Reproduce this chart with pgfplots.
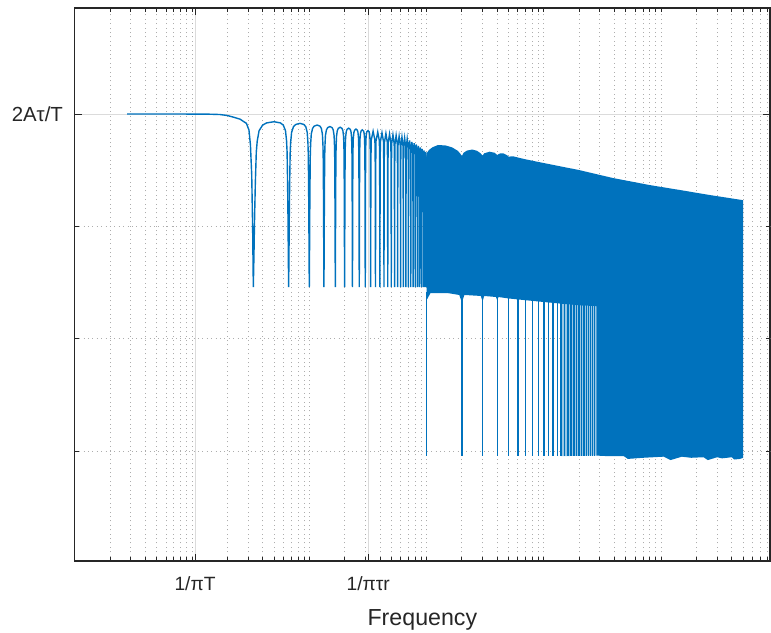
\documentclass[border=0pt]{standalone}
\usepackage{pgfplots}
\pgfplotsset{compat=1.18}
\usepackage{fontspec}
\setmainfont{Liberation Sans}
\definecolor{mblue}{RGB}{0,114,189}
\begin{document}
\begin{tikzpicture}
\begin{axis}[
  name=ax,
  scale only axis,
  width=347.6bp, height=276.5bp,
  xmode=log, ymode=log,
  xmin=1, xmax=8.47e5,
  ymin=1.047e-4, ymax=8.79,
  axis line style={black!85, line width=0.6bp},
  tick style={black!85, line width=0.4bp},
  tick align=inside,
  major tick length=3.5bp, minor tick length=2bp,
  xtick={10.61,318.3},
  xticklabels={1/πT,1/πτr},
  minor xtick={2,3,4,5,6,7,8,9,10,20,30,40,50,60,70,80,90,100,200,300,400,500,600,700,800,900,1000,2000,3000,4000,5000,6000,7000,8000,9000,10000,20000,30000,40000,50000,60000,70000,80000,90000,100000,200000,300000,400000,500000,600000,700000,800000},
  ytick={1},
  yticklabels={2Aτ/T},
  extra y ticks={0.1,0.01,0.001},
  extra y tick labels={},
  extra y tick style={grid=major, major grid style={black!32, line width=0.4bp, dash pattern=on 0.5bp off 1.7bp}, major tick length=2bp},
  grid=both,
  major grid style={black!14, line width=0.4bp},
  minor grid style={black!32, line width=0.4bp, dash pattern=on 0.5bp off 1.7bp},
  xticklabel style={font=\fontsize{9.6bp}{11bp}\selectfont, text=black!85, anchor=base, yshift=-14.5bp},
  yticklabel style={font=\fontsize{10.2bp}{12bp}\selectfont, text=black!85, inner sep=0pt, xshift=-5.7bp},
  xlabel={Frequency},
  xlabel style={font=\fontsize{11.6bp}{13bp}\selectfont, text=black!85, at={(axis description cs:0.5,0)}, anchor=base, yshift=-32bp},
]
% light transition zone
\addplot[draw=none, fill=mblue!40] coordinates {(14000,0.0205) (28000,0.0195) (28000,9.1e-4) (14000,9.0e-4)};
% dense high-frequency region
\addplot[draw=none, fill=mblue] coordinates {
(1000,0.447) (1050,0.48) (1120,0.505) (1250,0.53) (1450,0.525) (1650,0.505) (1850,0.47) (1950,0.44) (2000,0.423) (2060,0.45) (2200,0.472) (2450,0.483) (2700,0.47) (2900,0.445) (3000,0.425) (3100,0.447) (3450,0.462) (3800,0.452) (4000,0.432) (4200,0.445) (4500,0.447) (4850,0.43) (5000,0.418) (5500,0.42) (6000,0.41) (7000,0.395) (10000,0.366) (20000,0.317) (39000,0.269) (80000,0.233) (147000,0.210) (260000,0.190) (500000,0.171)
(500000,8.7e-4) (470000,8.5e-4) (420000,8.4e-4) (400000,8.8e-4) (330000,8.6e-4) (300000,8.8e-4) (250000,8.3e-4) (230000,8.8e-4) (180000,8.7e-4) (150000,8.9e-4) (120000,8.3e-4) (105000,8.9e-4) (70000,8.7e-4) (52000,8.5e-4) (48000,9.0e-4) (35000,9.0e-4) (28000,9.1e-4)
(28000,0.0195) (20000,0.0198) (14000,0.0205) (10000,0.0212) (7000,0.022) (5000,0.0228) (4100,0.0235) (4000,0.022) (3900,0.0235) (3100,0.024) (3000,0.0215) (2900,0.024) (2100,0.0245) (2000,0.021) (1900,0.0245) (1500,0.0255) (1080,0.0255) (1000,0.022)
};
% deep nulls at multiples of 1/tau
\addplot[mblue, line width=0.7bp, unbounded coords=jump] coordinates {
(1000,0.026) (1000,9.0e-4) (1000,nan)
(2000,0.026) (2000,9.0e-4) (2000,nan)
(3000,0.026) (3000,9.0e-4) (3000,nan)
(4000,0.026) (4000,9.0e-4) (4000,nan)
(5000,0.026) (5000,9.0e-4) (5000,nan)
(6000,0.026) (6000,9.0e-4) (6000,nan)
(7000,0.026) (7000,9.0e-4) (7000,nan)
(8000,0.026) (8000,9.0e-4) (8000,nan)
(9000,0.026) (9000,9.0e-4) (9000,nan)
(10000,0.026) (10000,9.0e-4) (10000,nan)
(11000,0.026) (11000,9.0e-4) (11000,nan)
(12000,0.026) (12000,9.0e-4) (12000,nan)
(13000,0.026) (13000,9.0e-4) (13000,nan)
(14000,0.026) (14000,9.0e-4) (14000,nan)
(15000,0.026) (15000,9.0e-4) (15000,nan)
(16000,0.026) (16000,9.0e-4) (16000,nan)
(17000,0.026) (17000,9.0e-4) (17000,nan)
(18000,0.026) (18000,9.0e-4) (18000,nan)
(19000,0.026) (19000,9.0e-4) (19000,nan)
(20000,0.026) (20000,9.0e-4) (20000,nan)
(21000,0.026) (21000,9.0e-4) (21000,nan)
(22000,0.026) (22000,9.0e-4) (22000,nan)
(23000,0.026) (23000,9.0e-4) (23000,nan)
(24000,0.026) (24000,9.0e-4) (24000,nan)
(25000,0.026) (25000,9.0e-4) (25000,nan)
(26000,0.026) (26000,9.0e-4) (26000,nan)
(27000,0.026) (27000,9.0e-4)
};
% low-frequency part: flat top and arches between nulls at n/T
\addplot[mblue, line width=0.7bp] coordinates {
(2.8,1.0) (8,1.0) (13.5,0.998) (17.3,0.99) (20,0.97) (22.4,0.94) (25.7,0.90) (29.1,0.826) (30.6,0.72) (31.5,0.53) (32.3,0.287) (32.9,0.093)
(33.33,0.0288) (33.73,0.0539) (34.17,0.120) (34.67,0.241) (35.33,0.459) (36.00,0.577) (37.33,0.711) (40.00,0.797) (43.33,0.834) (50.00,0.854) (56.67,0.834) (60.00,0.797) (62.67,0.711) (64.00,0.577) (64.67,0.459) (65.33,0.241) (65.83,0.120) (66.27,0.0539)
(66.67,0.0288) (67.07,0.0521) (67.50,0.116) (68.00,0.233) (68.67,0.444) (69.33,0.558) (70.67,0.687) (73.33,0.771) (76.67,0.807) (83.33,0.826) (90.00,0.807) (93.33,0.771) (96.00,0.687) (97.33,0.558) (98.00,0.444) (98.67,0.233) (99.17,0.116) (99.60,0.0521)
(100.00,0.0288) (100.40,0.0504) (100.83,0.113) (101.33,0.225) (102.00,0.429) (102.67,0.539) (104.00,0.664) (106.67,0.745) (110.00,0.780) (116.67,0.798) (123.33,0.780) (126.67,0.745) (129.33,0.664) (130.67,0.539) (131.33,0.429) (132.00,0.225) (132.50,0.113) (132.93,0.0504)
(133.33,0.0288) (133.73,0.0488) (134.17,0.109) (134.67,0.218) (135.33,0.416) (136.00,0.523) (137.33,0.644) (140.00,0.722) (143.33,0.756) (150.00,0.774) (156.67,0.756) (160.00,0.722) (162.67,0.644) (164.00,0.523) (164.67,0.416) (165.33,0.218) (165.83,0.109) (166.27,0.0488)
(166.67,0.0288) (167.07,0.0481) (167.50,0.108) (168.00,0.215) (168.67,0.410) (169.33,0.516) (170.67,0.635) (173.33,0.712) (176.67,0.745) (183.33,0.763) (190.00,0.745) (193.33,0.712) (196.00,0.635) (197.33,0.516) (198.00,0.410) (198.67,0.215) (199.17,0.108) (199.60,0.0481)
(200.00,0.0288) (200.40,0.0472) (200.83,0.105) (201.33,0.211) (202.00,0.402) (202.67,0.506) (204.00,0.622) (206.67,0.698) (210.00,0.731) (216.67,0.748) (223.33,0.731) (226.67,0.698) (229.33,0.622) (230.67,0.506) (231.33,0.402) (232.00,0.211) (232.50,0.105) (232.93,0.0472)
(233.33,0.0288) (233.73,0.0464) (234.17,0.104) (234.67,0.207) (235.33,0.395) (236.00,0.497) (237.33,0.612) (240.00,0.686) (243.33,0.718) (250.00,0.735) (256.67,0.718) (260.00,0.686) (262.67,0.612) (264.00,0.497) (264.67,0.395) (265.33,0.207) (265.83,0.104) (266.27,0.0464)
(266.67,0.0288) (267.07,0.0456) (267.50,0.102) (268.00,0.204) (268.67,0.388) (269.33,0.489) (270.67,0.602) (273.33,0.675) (276.67,0.706) (283.33,0.723) (290.00,0.706) (293.33,0.675) (296.00,0.602) (297.33,0.489) (298.00,0.388) (298.67,0.204) (299.17,0.102) (299.60,0.0456)
(300.00,0.0288) (300.40,0.0450) (300.83,0.101) (301.33,0.201) (302.00,0.383) (302.67,0.482) (304.00,0.593) (306.67,0.665) (310.00,0.697) (316.67,0.713) (323.33,0.697) (326.67,0.665) (329.33,0.593) (330.67,0.482) (331.33,0.383) (332.00,0.201) (332.50,0.101) (332.93,0.0450)
(333.33,0.0288) (334.17,0.0991) (335.33,0.378) (337.33,0.585) (350.00,0.703) (362.67,0.585) (364.67,0.378) (365.83,0.0991)
(366.67,0.0288) (367.50,0.0974) (368.67,0.371) (370.67,0.575) (383.33,0.691) (396.00,0.575) (398.00,0.371) (399.17,0.0974)
(400.00,0.0288) (400.83,0.0960) (402.00,0.366) (404.00,0.567) (416.67,0.681) (429.33,0.567) (431.33,0.366) (432.50,0.0960)
(433.33,0.0288) (434.17,0.0948) (435.33,0.361) (437.33,0.559) (450.00,0.672) (462.67,0.559) (464.67,0.361) (465.83,0.0948)
(466.67,0.0288) (467.50,0.0936) (468.67,0.357) (470.67,0.552) (483.33,0.664) (496.00,0.552) (498.00,0.357) (499.17,0.0936)
(500.00,0.0288) (500.83,0.0922) (502.00,0.351) (504.00,0.544) (516.67,0.654) (529.33,0.544) (531.33,0.351) (532.50,0.0922)
(533.33,0.0288) (534.17,0.0909) (535.33,0.346) (537.33,0.537) (550.00,0.645) (562.67,0.537) (564.67,0.346) (565.83,0.0909)
(566.67,0.0288) (567.50,0.0894) (568.67,0.340) (570.67,0.527) (583.33,0.634) (596.00,0.527) (598.00,0.340) (599.17,0.0894)
(600.00,0.0288) (600.83,0.0880) (602.00,0.335) (604.00,0.519) (616.67,0.624) (629.33,0.519) (631.33,0.335) (632.50,0.0880)
(633.33,0.0288) (634.17,0.0862) (635.33,0.328) (637.33,0.508) (650.00,0.611) (662.67,0.508) (664.67,0.328) (665.83,0.0862)
(666.67,0.0288) (667.50,0.0845) (668.67,0.322) (670.67,0.498) (683.33,0.599) (696.00,0.498) (698.00,0.322) (699.17,0.0845)
(700.00,0.0288) (700.83,0.0819) (702.00,0.312) (704.00,0.483) (716.67,0.581) (729.33,0.483) (731.33,0.312) (732.50,0.0819)
(733.33,0.0288) (734.17,0.0794) (735.33,0.302) (737.33,0.468) (750.00,0.563) (762.67,0.468) (764.67,0.302) (765.83,0.0794)
(766.67,0.0288) (767.50,0.0776) (768.67,0.295) (770.67,0.458) (783.33,0.550) (796.00,0.458) (798.00,0.295) (799.17,0.0776)
(800.00,0.0288) (800.83,0.0754) (802.00,0.287) (804.00,0.445) (816.67,0.535) (829.33,0.445) (831.33,0.287) (832.50,0.0754)
(833.33,0.0288) (834.17,0.0732) (835.33,0.279) (837.33,0.432) (850.00,0.519) (862.67,0.432) (864.67,0.279) (865.83,0.0732)
(866.67,0.0288) (867.50,0.0709) (868.67,0.270) (870.67,0.418) (883.33,0.503) (896.00,0.418) (898.00,0.270) (899.17,0.0709)
(900.00,0.0288) (900.83,0.0688) (902.00,0.262) (904.00,0.406) (916.67,0.488) (929.33,0.406) (931.33,0.262) (932.50,0.0688)
(933.33,0.0288) (934.17,0.0667) (935.33,0.254) (937.33,0.394) (950.00,0.473) (962.67,0.394) (964.67,0.254) (965.83,0.0667)
(966.67,0.0288) (967.50,0.0647) (968.67,0.246) (970.67,0.382) (983.33,0.459) (996.00,0.382) (998.00,0.246) (999.17,0.0647)
(1000.00,0.0288)
};
\end{axis}
\pgfresetboundingbox
\path[use as bounding box] ([shift={(-37.35bp,-35.5bp)}]ax.south west) rectangle ([shift={(0.5bp,4bp)}]ax.north east);
\end{tikzpicture}
\end{document}
